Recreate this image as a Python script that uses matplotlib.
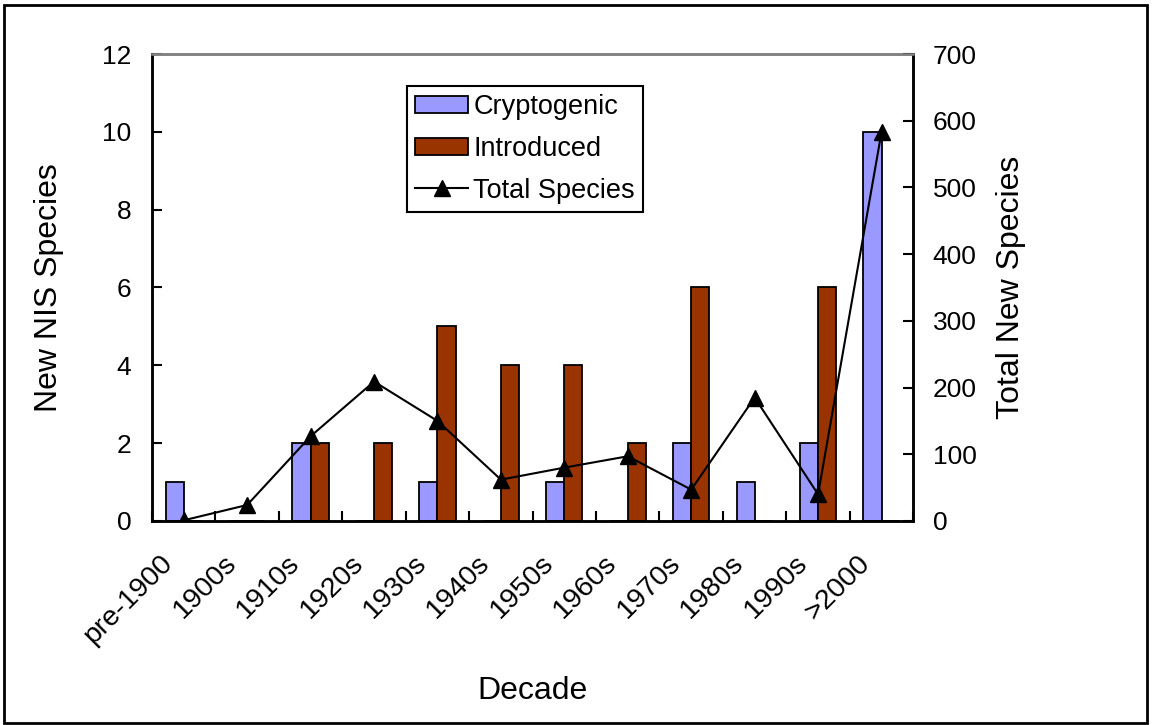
import numpy as np
import matplotlib
matplotlib.use("Agg")
import matplotlib.pyplot as plt
from matplotlib.patches import Rectangle
from matplotlib.transforms import ScaledTranslation

plt.rcParams['font.family'] = ['Liberation Sans', 'DejaVu Sans']

decades = ['pre-1900', '1900s', '1910s', '1920s', '1930s', '1940s',
           '1950s', '1960s', '1970s', '1980s', '1990s', '>2000']
cryptogenic = [1, 0, 2, 0, 1, 0, 1, 0, 2, 1, 2, 10]
introduced = [0, 0, 2, 2, 5, 4, 4, 2, 6, 0, 6, 0]
total_species = [1, 24, 127, 209, 150, 62, 80, 97, 47, 185, 40, 583]

fig = plt.figure(figsize=(11.56, 7.25), dpi=100)
ax = fig.add_axes([0.1315, 0.2814, 0.6585, 0.6441])
ax2 = ax.twinx()

x = np.arange(len(decades))
w = 1 / 3.5
b1 = ax.bar(x - w / 2, cryptogenic, w, color='#9999FF', edgecolor='black', linewidth=1.3, label='Cryptogenic')
b2 = ax.bar(x + w / 2, introduced, w, color='#993300', edgecolor='black', linewidth=1.3, label='Introduced')
l1, = ax2.plot(x, total_species, color='black', linewidth=1.5, marker='^', markersize=11, label='Total Species')

ax.set_xlim(-0.5, len(decades) - 0.5)
ax.set_ylim(0, 12)
ax.set_yticks(np.arange(0, 13, 2))
ax2.set_ylim(0, 700)
ax2.set_yticks(np.arange(0, 701, 100))

# category labels at centres, boundary ticks pointing in
ax.set_xticks(x)
ax.set_xticklabels(decades, rotation=45, ha='right', va='top', rotation_mode='anchor', fontsize=20.5)
ax.set_xticks(np.arange(-0.5, len(decades)), minor=True)
ax.tick_params(axis='x', which='major', length=0, pad=21)
ax.tick_params(axis='x', which='minor', direction='in', length=7, width=1.5)
off = ScaledTranslation(-0.24, 0, fig.dpi_scale_trans)
for lab in ax.get_xticklabels():
    lab.set_transform(lab.get_transform() + off)

ax.tick_params(axis='y', direction='in', length=7, width=1.5, labelsize=19, pad=15)
ax2.tick_params(axis='y', direction='in', length=7, width=1.5, labelsize=19, pad=14)

for a in (ax, ax2):
    for s in ('left', 'right', 'bottom'):
        a.spines[s].set_linewidth(1.8)
    a.spines['top'].set_color('#808080')
    a.spines['top'].set_linewidth(1.8)

ax.set_xlabel('Decade', fontsize=23)
ax.xaxis.set_label_coords(0.5, -0.331)
ax.set_ylabel('New NIS Species', fontsize=23)
ax.yaxis.set_label_coords(-0.116, 0.5)
ax2.set_ylabel('Total New Species', fontsize=23)
ax2.yaxis.set_label_coords(1.109, 0.5)

leg = ax2.legend([b1, b2, l1], ['Cryptogenic', 'Introduced', 'Total Species'],
                 loc='upper left', bbox_to_anchor=(407 / 1156, 1 - 86 / 725),
                 bbox_transform=fig.transFigure, borderaxespad=0,
                 fontsize=19.5, frameon=True, fancybox=False, framealpha=1,
                 handlelength=1.95, handleheight=0.6, handletextpad=0.2,
                 labelspacing=0.58, borderpad=0.3)
leg.get_frame().set_edgecolor('black')
leg.get_frame().set_linewidth(1.5)

fig.patches.append(Rectangle((4 / 1156, 2 / 725), 1143 / 1156, 718 / 725,
                             transform=fig.transFigure, fill=False,
                             edgecolor='black', linewidth=2))

fig.savefig('out.png', dpi=100)
